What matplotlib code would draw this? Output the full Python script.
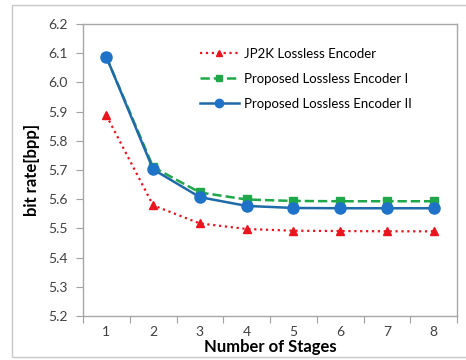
import numpy as np
import matplotlib.pyplot as plt
from matplotlib.patches import Rectangle

stages = [1, 2, 3, 4, 5, 6, 7, 8]
jp2k = [5.887, 5.579, 5.517, 5.498, 5.492, 5.491, 5.490, 5.490]
proposed_1 = [6.087, 5.710, 5.623, 5.599, 5.594, 5.593, 5.593, 5.593]
proposed_2 = [6.087, 5.702, 5.607, 5.577, 5.570, 5.569, 5.569, 5.569]

plt.rcParams['font.family'] = ['Lato', 'DejaVu Sans']

fig = plt.figure(figsize=(4.66, 3.6), dpi=100)
ax = fig.add_axes([83 / 466, 44 / 360, 374 / 466, 292 / 360])

# chart area border
fig.patches.append(Rectangle((12 / 466, 3 / 360), 0.99, 352 / 360, transform=fig.transFigure,
                             fill=False, edgecolor='#c8c8c8', linewidth=1.0))

ax.plot(stages, jp2k, color='#e8141e', linestyle=':', linewidth=1.6, marker='^',
        markersize=6, label='JP2K Lossless Encoder')
ax.plot(stages, proposed_1, color='#1fa84a', linestyle='--', linewidth=1.8, marker='s',
        markersize=6, label='Proposed Lossless Encoder I')
ax.plot(stages, proposed_2, color='#1f6aa8', linestyle='-', linewidth=1.8, marker='o',
        markerfacecolor='#1e73c8', markeredgecolor='#1e73c8', markersize=8,
        label='Proposed Lossless Encoder II')

ax.set_xlim(0.5, 8.5)
ax.set_ylim(5.2, 6.2)
ax.set_yticks(np.arange(5.2, 6.21, 0.1))
ax.set_yticklabels(['%.1f' % v for v in np.arange(5.2, 6.21, 0.1)])
ax.set_xticks(np.arange(0.5, 8.6, 1.0))
ax.set_xticklabels([])
ax.set_xticks(stages, minor=True)
ax.set_xticklabels([str(s) for s in stages], minor=True)
ax.tick_params(axis='x', which='minor', length=0, pad=7)
ax.tick_params(axis='x', which='major', length=5, color='#a0a0a0')
ax.tick_params(axis='y', length=5, color='#a0a0a0', pad=6)
ax.tick_params(labelsize=10, labelcolor='#404040', which='both')

for side in ax.spines.values():
    side.set_color('#a8a8a8')
    side.set_linewidth(1.0)

ax.set_xlabel('Number of Stages', fontsize=12, fontweight='bold', labelpad=1)
ax.set_ylabel('bit rate[bpp]', fontsize=12, fontweight='bold', labelpad=6)

ax.legend(loc='upper left', bbox_to_anchor=(0.28, 0.96), frameon=False, fontsize=9.5,
          handlelength=3.0, handletextpad=0.4, labelspacing=1.0, markerscale=0.75)

fig.savefig('out.png', dpi=100)
